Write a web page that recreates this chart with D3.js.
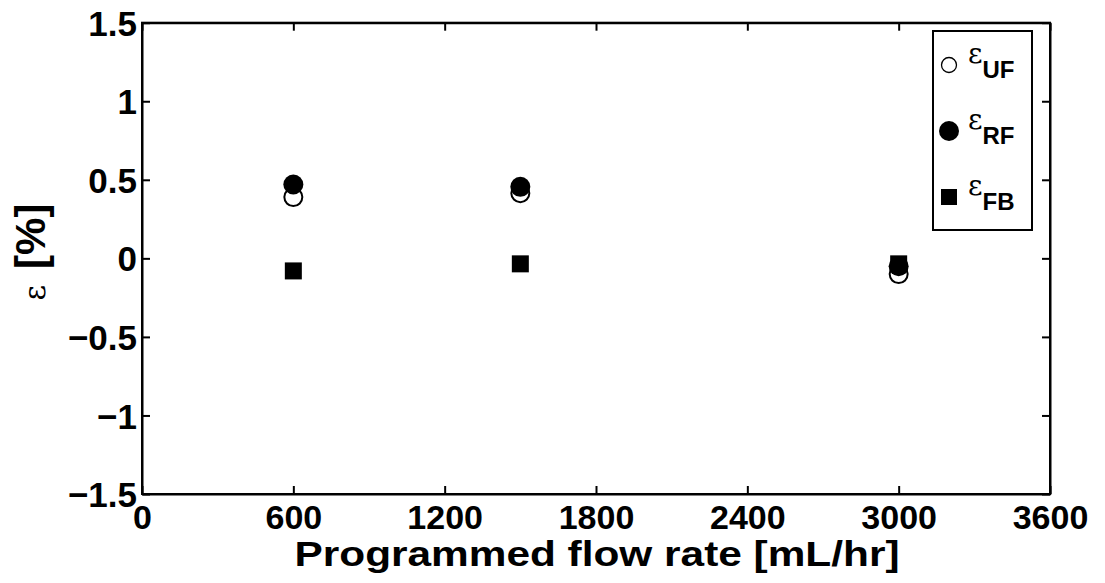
<!DOCTYPE html>
<html>
<head>
<meta charset="utf-8">
<script src="https://cdn.jsdelivr.net/npm/d3@7"></script>
<style>
  body { margin: 0; background: #fff; }
  text { font-family: "Liberation Sans", Arial, sans-serif; }
</style>
</head>
<body>
<svg id="chart" width="1105" height="583"></svg>
<script>
// data
var flowRates = [600, 1500, 3000];
var epsUF = [0.39, 0.415, -0.10];
var epsRF = [0.47, 0.455, -0.05];
var epsFB = [-0.08, -0.035, -0.035];
var xTicks = [0, 600, 1200, 1800, 2400, 3000, 3600];
var yTicks = [-1.5, -1, -0.5, 0, 0.5, 1, 1.5];
var seriesNames = ["UF", "RF", "FB"];

var svg = d3.select("#chart");
var margin = {top: 22.7, right: 55, bottom: 89, left: 142};
var width = 1105 - margin.left - margin.right,
    height = 583 - margin.top - margin.bottom;

var x = d3.scaleLinear().domain([0, 3600]).range([margin.left, margin.left + width]);
var y = d3.scaleLinear().domain([-1.5, 1.5]).range([margin.top + height, margin.top]);

var tickLen = 8;
var fmtY = function(d) { return d < 0 ? "\u2212" + Math.abs(d) : "" + d; };
var fmtX = function(d) { return "" + d; };

// axes (ticks inward, mirrored on top/right)
svg.append("g")
    .attr("transform", "translate(0," + (margin.top + height) + ")")
    .call(d3.axisBottom(x).tickValues(xTicks).tickFormat(fmtX).tickSizeInner(-tickLen).tickSizeOuter(0).tickPadding(11))
    .call(g => g.selectAll("text").attr("font-size", 34).attr("font-weight", "bold").attr("dy", "0.71em"));

svg.append("g")
    .attr("transform", "translate(" + margin.left + ",0)")
    .call(d3.axisLeft(y).tickValues(yTicks).tickFormat(fmtY).tickSizeInner(-tickLen).tickSizeOuter(0).tickPadding(5))
    .call(g => g.selectAll("text").attr("font-size", 35).attr("font-weight", "bold").attr("dy", "0.36em"));

svg.append("g")
    .attr("transform", "translate(0," + margin.top + ")")
    .call(d3.axisTop(x).tickValues(xTicks).tickSizeInner(-tickLen).tickSizeOuter(0).tickFormat(""));

svg.append("g")
    .attr("transform", "translate(" + (margin.left + width) + ",0)")
    .call(d3.axisRight(y).tickValues(yTicks).tickSizeInner(-tickLen).tickSizeOuter(0).tickFormat(""));

svg.selectAll(".domain, .tick line").attr("stroke", "#000").attr("stroke-width", 2);

// frame
svg.append("rect")
    .attr("x", margin.left).attr("y", margin.top)
    .attr("width", width).attr("height", height)
    .attr("fill", "none").attr("stroke", "#000").attr("stroke-width", 2);

// axis titles
svg.append("text")
    .attr("x", 597)
    .attr("y", 566)
    .attr("text-anchor", "middle")
    .attr("font-size", 35).attr("font-weight", "bold")
    .attr("textLength", 605).attr("lengthAdjust", "spacingAndGlyphs")
    .text("Programmed flow rate [mL/hr]");

var ylab = svg.append("text")
    .attr("transform", "translate(45,252) rotate(-90)")
    .attr("text-anchor", "middle");
ylab.append("tspan").attr("font-size", 30).attr("font-family", "DejaVu Serif, serif").text("\u03b5");
ylab.append("tspan").attr("dx", 16).attr("font-size", 42).attr("font-weight", "bold").text("[%]");

// markers
var r = 10, sq = 17;
var pts = function(vals) { return flowRates.map(function(f, i) { return {x: f, y: vals[i]}; }); };

svg.append("g").selectAll("circle")
    .data(pts(epsUF)).enter().append("circle")
    .attr("cx", d => x(d.x)).attr("cy", d => y(d.y)).attr("r", r - 1)
    .attr("fill", "#fff").attr("stroke", "#000").attr("stroke-width", 2);

svg.append("g").selectAll("circle")
    .data(pts(epsRF)).enter().append("circle")
    .attr("cx", d => x(d.x)).attr("cy", d => y(d.y)).attr("r", r)
    .attr("fill", "#000");

svg.append("g").selectAll("rect")
    .data(pts(epsFB)).enter().append("rect")
    .attr("x", d => x(d.x) - sq / 2).attr("y", d => y(d.y) - sq / 2)
    .attr("width", sq).attr("height", sq)
    .attr("fill", "#000");

// legend
var leg = svg.append("g").attr("transform", "translate(933,31)");
leg.append("rect").attr("width", 99).attr("height", 199)
    .attr("fill", "#fff").attr("stroke", "#000").attr("stroke-width", 2);

seriesNames.forEach(function(name, i) {
  var cy = 34 + i * 66;
  if (i === 0) {
    leg.append("circle").attr("cx", 16).attr("cy", cy).attr("r", 7.5)
        .attr("fill", "#fff").attr("stroke", "#000").attr("stroke-width", 1.3);
  } else if (i === 1) {
    leg.append("circle").attr("cx", 16).attr("cy", cy).attr("r", 10).attr("fill", "#000");
  } else {
    leg.append("rect").attr("x", 8).attr("y", cy - 8).attr("width", 16).attr("height", 16).attr("fill", "#000");
  }
  var t = leg.append("text").attr("x", 35).attr("y", cy - 2);
  t.append("tspan").attr("font-size", 28).attr("font-family", "DejaVu Serif, serif").text("\u03b5");
  t.append("tspan").attr("dy", 15).attr("font-size", 24).attr("font-weight", "bold").text(name);
});
</script>
</body>
</html>
